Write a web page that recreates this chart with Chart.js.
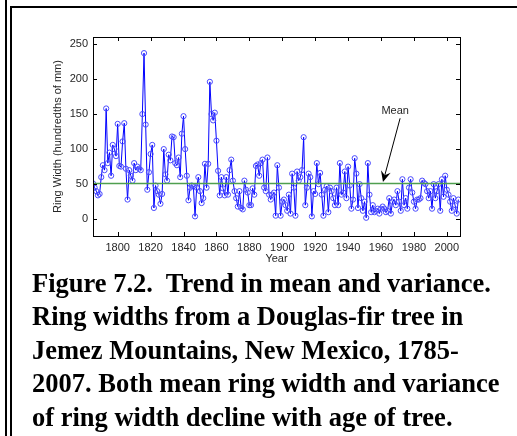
<!DOCTYPE html>
<html>
<head>
<meta charset="utf-8">
<script src="https://cdn.jsdelivr.net/npm/chart.js@4/dist/chart.umd.min.js"></script>
<style>
    body {
        margin: 0;
        background: #fff;
        width: 517px;
        height: 436px;
        overflow: hidden;
        position: relative;
    }
    .rule {
        position: absolute;
        left: 5px;
        top: 0;
        width: 2px;
        height: 436px;
        background: #000;
    }
    .panel {
        position: absolute;
        left: 10px;
        top: 6px;
        right: -10px;
        bottom: -10px;
        border-left: 2px solid #000;
        border-top: 2px solid #000;
    }
    #chart {
        position: absolute;
        left: 0;
        top: 0;
    }
    .caption {
        position: absolute;
        left: 32px;
        top: 267px;
        font-family: "Liberation Serif", "Times New Roman", serif;
        font-weight: bold;
        font-size: 26.5px;
        line-height: 33.4px;
        color: #000;
        white-space: pre;
    }
</style>
</head>
<body>
<div class="rule"></div>
<div class="panel"></div>
<canvas id="chart" width="517" height="270"></canvas>
<div class="caption">Figure 7.2.  Trend in mean and variance.
Ring widths from a Douglas-fir tree in
Jemez Mountains, New Mexico, 1785-
2007. Both mean ring width and variance
of ring width decline with age of tree.</div>

<script>
// ring widths, hundredths of mm, one value per year starting 1785
const firstYear = 1785;
const ringWidths = [
    51, 45, 40, 34, 36,
    60, 77, 70, 158, 80, 95, 62, 106, 100, 90,
    136, 76, 75, 111, 137, 72, 28, 70, 62, 55,
    80, 70, 75, 72, 70, 150, 237, 135, 42, 67,
    93, 106, 16, 48, 40, 35, 22, 36, 100, 64,
    55, 92, 84, 118, 117, 80, 77, 88, 60, 122,
    147, 100, 62, 27, 45, 48, 47, 4, 45, 60,
    40, 23, 30, 79, 45, 79, 196, 150, 141, 152,
    112, 69, 34, 60, 44, 34, 60, 35, 70, 85,
    55, 40, 30, 18, 40, 16, 14, 55, 42, 38,
    20, 20, 44, 35, 76, 78, 62, 80, 85, 45,
    40, 88, 35, 28, 35, 38, 5, 77, 45, 5,
    25, 28, 20, 12, 35, 8, 65, 45, 5, 68,
    55, 60, 70, 117, 20, 45, 65, 60, 4, 40,
    36, 80, 50, 66, 35, 5, 42, 47, 10, 45,
    40, 30, 20, 45, 20, 80, 35, 38, 68, 30,
    75, 48, 15, 28, 87, 65, 16, 50, 30, 12,
    25, 2, 80, 35, 10, 20, 10, 12, 15, 8,
    15, 18, 15, 10, 12, 30, 8, 25, 28, 20,
    40, 25, 12, 57, 20, 30, 15, 45, 57, 38,
    25, 15, 28, 28, 30, 55, 52, 50, 40, 30,
    40, 15, 50, 30, 40, 50, 12, 57, 32, 62,
    42, 35, 25, 12, 30, 20, 8, 28
];
const meanWidth = 51;

const yearTicks = [1800, 1820, 1840, 1860, 1880, 1900, 1920, 1940, 1960, 1980, 2000];
const widthTicks = [0, 50, 100, 150, 200, 250];
const xRange = [1785, 2008];
const yRange = [-24, 260];

// arrow from the "Mean" label down to the mean line, in data units
const meanLabel = { text: "Mean", x: 1968.6, y: 155 };
const meanArrow = { from: [1971.6, 144], to: [1961.2, 53] };

const points = ringWidths.map((w, i) => ({ x: firstYear + i, y: w }));

// matlab style axes: full box with inward ticks on every side
const boxAxes = {
    id: "boxAxes",
    afterDatasetsDraw(chart) {
        const { ctx, chartArea: a, scales } = chart;
        const len = 4;
        ctx.save();
        ctx.strokeStyle = "#000";
        ctx.lineWidth = 1;
        ctx.strokeRect(Math.round(a.left) + 0.5, Math.round(a.top) + 0.5,
            Math.round(a.right - a.left), Math.round(a.bottom - a.top));
        ctx.beginPath();
        scales.x.ticks.forEach((t) => {
            const px = Math.round(scales.x.getPixelForValue(t.value)) + 0.5;
            ctx.moveTo(px, a.bottom);
            ctx.lineTo(px, a.bottom - len);
            ctx.moveTo(px, a.top);
            ctx.lineTo(px, a.top + len);
        });
        scales.y.ticks.forEach((t) => {
            const py = Math.round(scales.y.getPixelForValue(t.value)) + 0.5;
            ctx.moveTo(a.left, py);
            ctx.lineTo(a.left + len, py);
            ctx.moveTo(a.right, py);
            ctx.lineTo(a.right - len, py);
        });
        ctx.stroke();
        ctx.restore();
    },
    afterDraw(chart) {
        const { ctx, scales } = chart;
        const X = (v) => scales.x.getPixelForValue(v);
        const Y = (v) => scales.y.getPixelForValue(v);
        ctx.save();
        ctx.fillStyle = "#262626";
        ctx.font = "11px 'Liberation Sans', Arial, sans-serif";
        ctx.textAlign = "center";
        ctx.textBaseline = "middle";
        ctx.fillText(meanLabel.text, X(meanLabel.x), Y(meanLabel.y));

        const x0 = X(meanArrow.from[0]), y0 = Y(meanArrow.from[1]);
        const x1 = X(meanArrow.to[0]), y1 = Y(meanArrow.to[1]);
        const ang = Math.atan2(y1 - y0, x1 - x0);
        const headLen = 11, headW = 5, notch = 7;
        ctx.strokeStyle = "#000";
        ctx.fillStyle = "#000";
        ctx.lineWidth = 1;
        ctx.beginPath();
        ctx.moveTo(x0, y0);
        ctx.lineTo(x1 - Math.cos(ang) * notch, y1 - Math.sin(ang) * notch);
        ctx.stroke();
        ctx.translate(x1, y1);
        ctx.rotate(ang);
        ctx.beginPath();
        ctx.moveTo(0, 0);
        ctx.lineTo(-headLen, -headW);
        ctx.lineTo(-notch, 0);
        ctx.lineTo(-headLen, headW);
        ctx.closePath();
        ctx.fill();
        ctx.restore();
    },
};

const tickFont = { family: "'Liberation Sans', Arial, sans-serif", size: 11 };

new Chart(document.getElementById("chart").getContext("2d"), {
    type: "line",
    data: {
        datasets: [
            {
                label: "Mean",
                data: [
                    { x: xRange[0], y: meanWidth },
                    { x: xRange[1], y: meanWidth },
                ],
                borderColor: "#4f9f4f",
                borderWidth: 1.5,
                pointRadius: 0,
                order: 0,
            },
            {
                label: "Ring width",
                data: points,
                borderColor: "#0000ff",
                borderWidth: 1,
                pointRadius: 2.6,
                pointBorderWidth: 1,
                pointBorderColor: "#4a4aff",
                pointBackgroundColor: "rgba(0,0,0,0)",
                tension: 0,
                order: 1,
            },
        ],
    },
    options: {
        responsive: false,
        animation: false,
        devicePixelRatio: 1,
        layout: {
            padding: { left: 51, right: 57, top: 37, bottom: 4 },
        },
        plugins: {
            legend: { display: false },
            tooltip: { enabled: false },
        },
        scales: {
            x: {
                type: "linear",
                min: xRange[0],
                max: xRange[1],
                afterBuildTicks: (s) => {
                    s.ticks = yearTicks.map((v) => ({ value: v }));
                },
                afterFit: (s) => {
                    s.height = 30;
                },
                grid: { display: false, drawTicks: false },
                border: { display: false },
                ticks: {
                    font: tickFont,
                    color: "#262626",
                    padding: 5,
                    maxRotation: 0,
                    autoSkip: false,
                    callback: (v) => String(v),
                },
                title: {
                    display: true,
                    text: "Year",
                    font: tickFont,
                    color: "#262626",
                    padding: 0,
                },
            },
            y: {
                min: yRange[0],
                max: yRange[1],
                afterBuildTicks: (s) => {
                    s.ticks = widthTicks.map((v) => ({ value: v }));
                },
                afterFit: (s) => {
                    s.width = 42;
                },
                grid: { display: false, drawTicks: false },
                border: { display: false },
                ticks: {
                    font: tickFont,
                    color: "#262626",
                    padding: 5,
                    autoSkip: false,
                },
                title: {
                    display: true,
                    text: "Ring Width (hundredths of mm)",
                    font: tickFont,
                    color: "#262626",
                    padding: 0,
                },
            },
        },
    },
    plugins: [boxAxes],
});
</script>
</body>
</html>
